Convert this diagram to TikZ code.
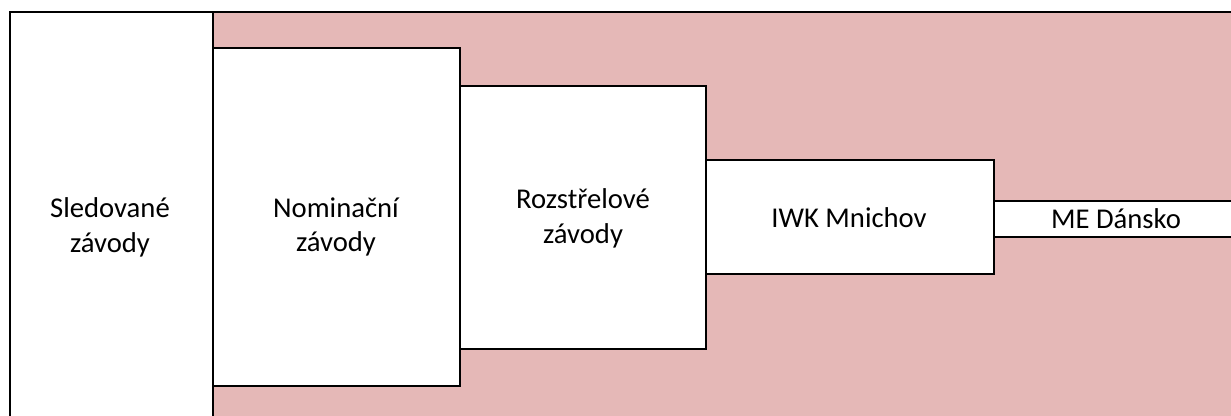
\documentclass[tikz,border=0pt]{standalone}
\usepackage{fontspec}
\setmainfont{Carlito}
\usetikzlibrary{calc,positioning}
\definecolor{stagepink}{HTML}{E5B8B7}
\tikzset{stage/.style={draw=black, line width=1.4pt, fill=white},
  stagetext/.style={align=center, inner sep=0pt, font=\fontsize{21.5}{26}\selectfont}}

\begin{document}
\begin{tikzpicture}[x=0.75pt,y=-0.75pt]
	\useasboundingbox (0,0) rectangle (1231,416);
	\clip (0,0) rectangle (1231,416);

	%% corners of the stages (pixels of the picture, y downwards)
	\coordinate (S1) at (10,12);    % watched races
	\coordinate (S2) at (213,440);
	\coordinate (N1) at (213,48);   % nomination races
	\coordinate (N2) at (460,386);
	\coordinate (R1) at (460,86);   % play-off races
	\coordinate (R2) at (706,349);
	\coordinate (I1) at (706,160);  % IWK
	\coordinate (I2) at (994,274);
	\coordinate (M1) at (994,201);  % ME
	\coordinate (M2) at (1250,237);

	%% background
	\filldraw[fill=stagepink, line width=1.4pt] (S1) rectangle (1250,440);

	%% stages
	\draw[stage] (S1) rectangle (S2);
	\draw[stage] (N1) rectangle (N2);
	\draw[stage] (R1) rectangle (R2);
	\draw[stage] (I1) rectangle (I2);
	\draw[stage] (M1) rectangle (M2);

	%% labels
	\node[stagetext] (sled) at (110,227.5) {Sledované\\závody};
	\node[stagetext] (nom) at (336,227) {Nominační\\závody};
	\node[stagetext] (roz) at (583,218.5) {Rozstřelové\\závody};
	\node[stagetext] (iwk) at (849,218) {IWK Mnichov};
	\node[stagetext] (me) at (1116,219) {ME Dánsko};
\end{tikzpicture}
\end{document}
